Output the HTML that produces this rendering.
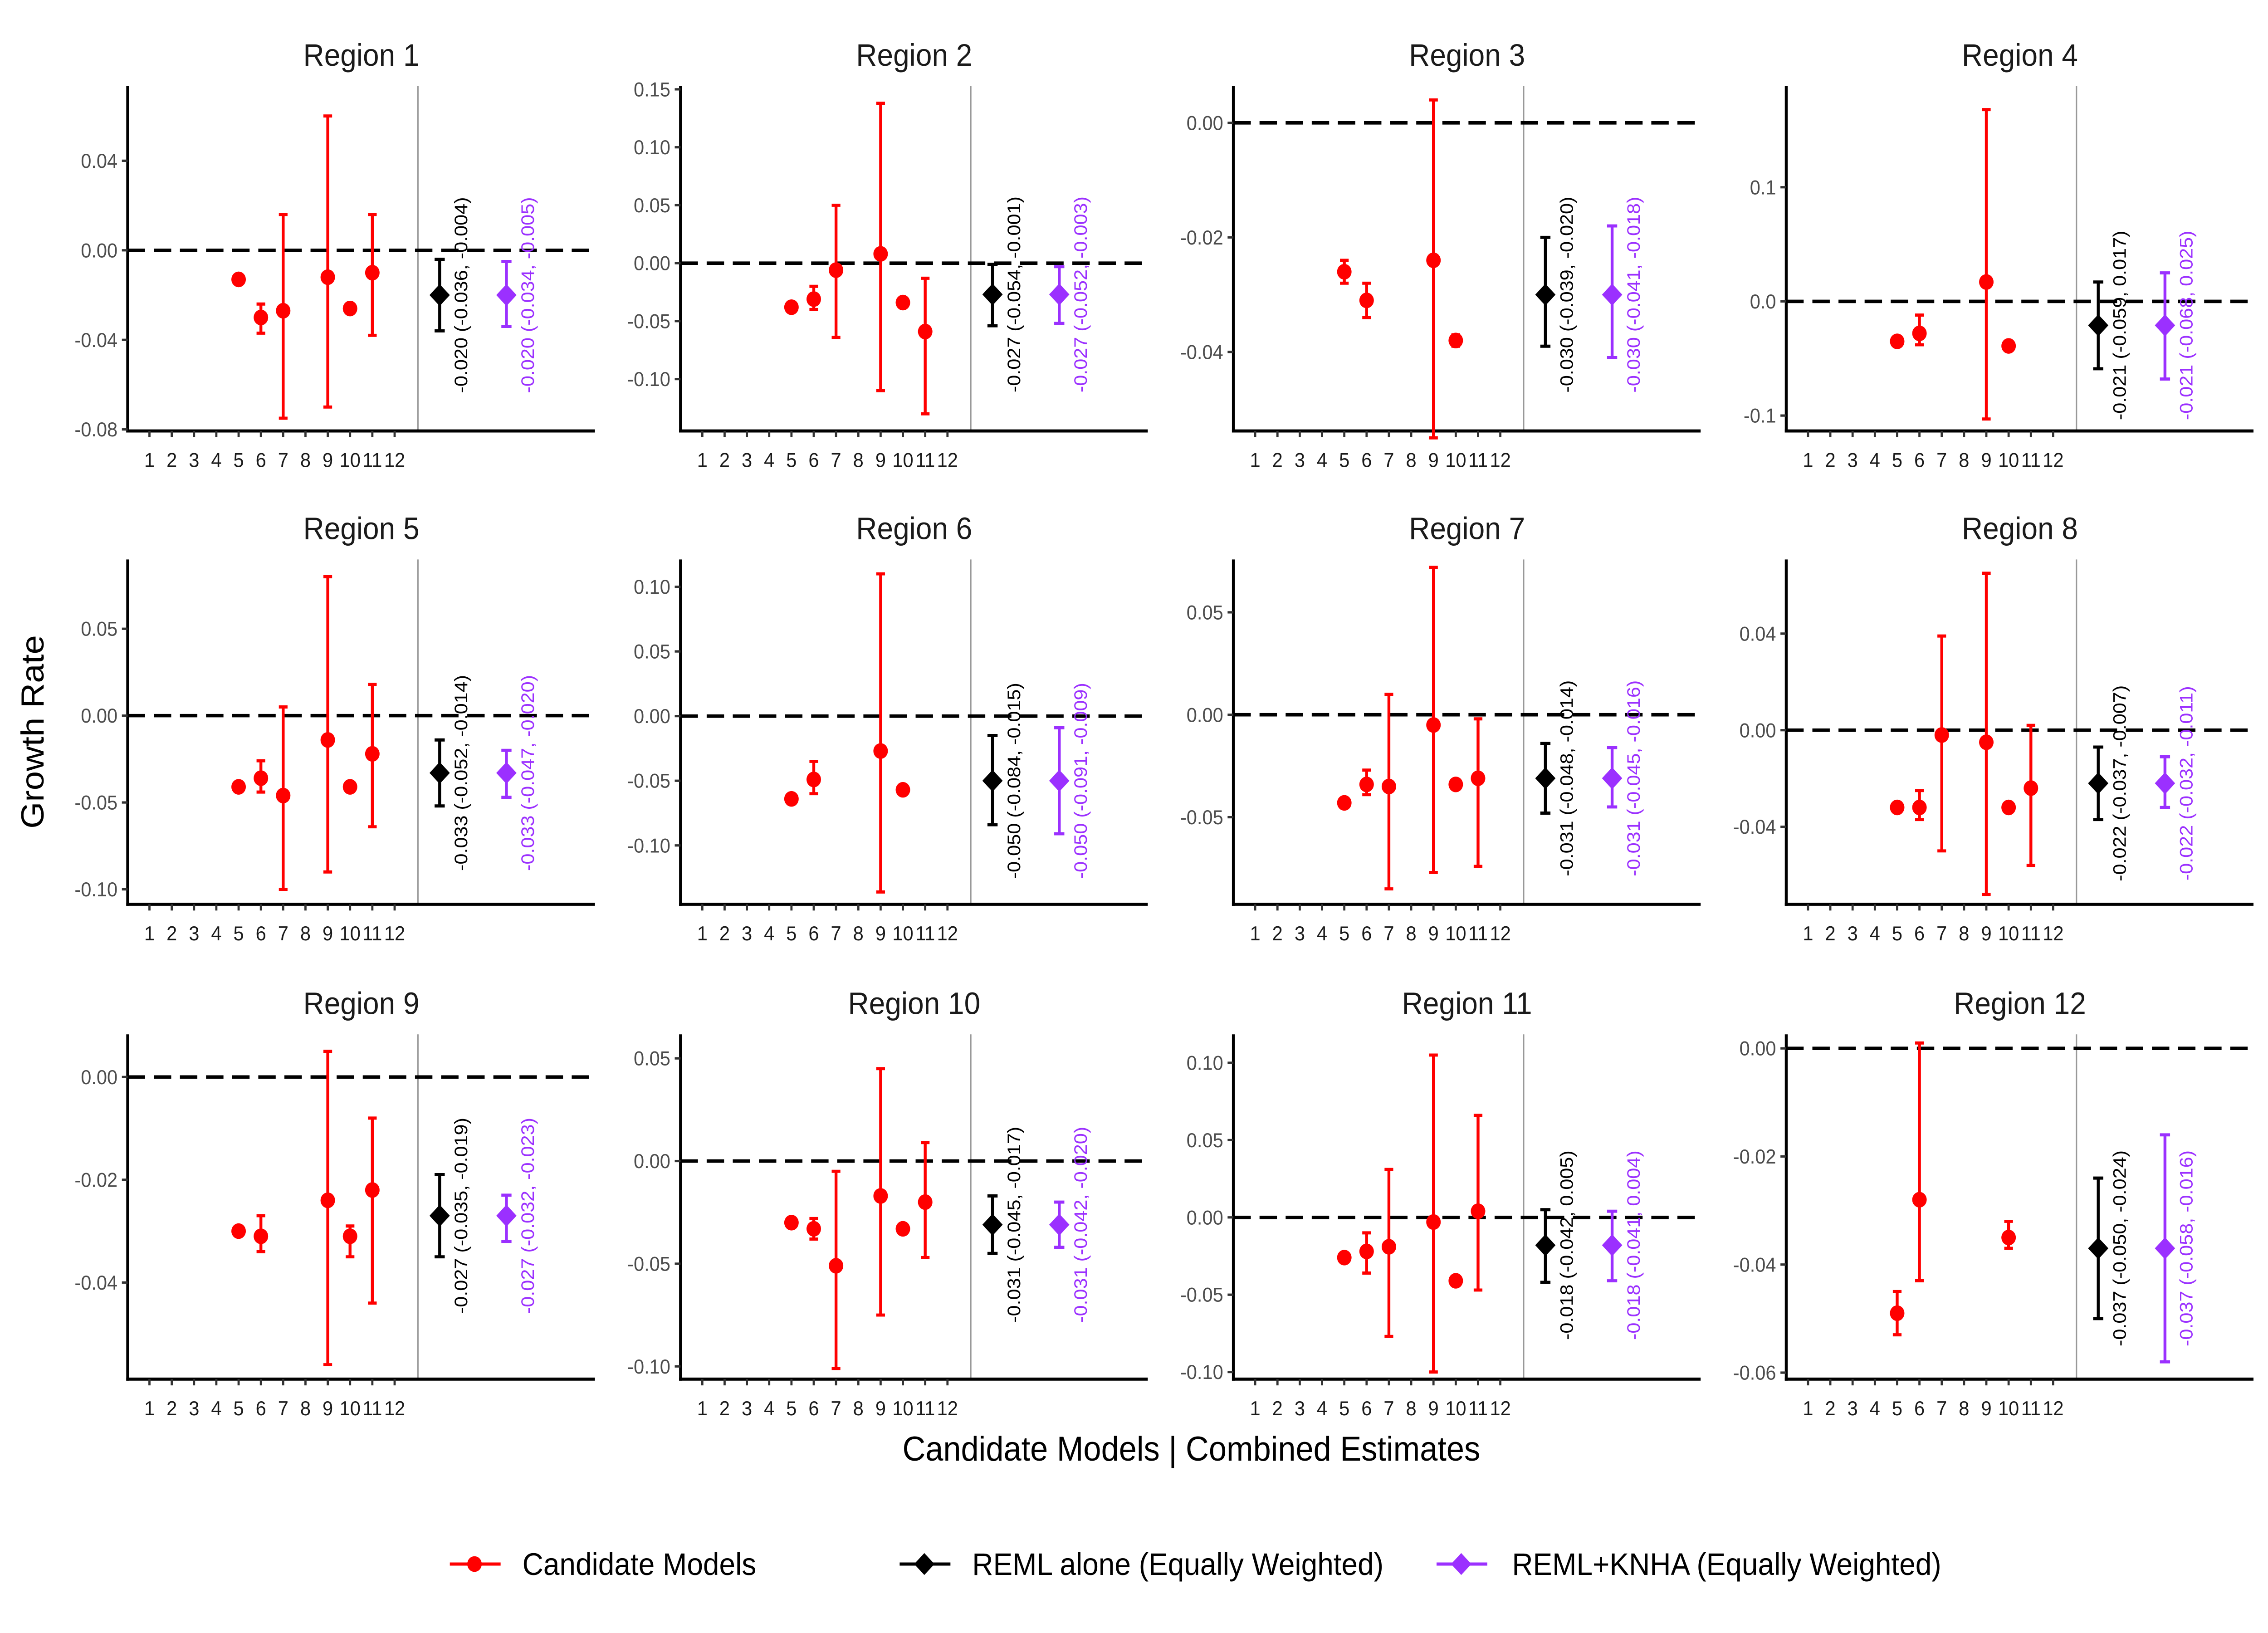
<!DOCTYPE html>
<html><head><meta charset="utf-8"><style>
html,body{margin:0;padding:0;background:#fff;overflow:hidden;width:100%;height:100%}
svg{display:block;position:fixed;left:0;top:0;width:100vw;height:100vh;font-family:"Liberation Sans",Arial,sans-serif}
</style></head><body>
<svg id="chart" viewBox="0 0 1563 1042" preserveAspectRatio="none" xmlns="http://www.w3.org/2000/svg">
<rect width="1563" height="1042" fill="#fff"/>
<text x="0" y="0" transform="translate(30,467) rotate(-90)" text-anchor="middle" font-size="22" fill="#000">Growth Rate</text>
<text x="821" y="932" text-anchor="middle" font-size="22" fill="#000">Candidate Models | Combined Estimates</text>
<g>
<g><line x1="310" y1="998" x2="345" y2="998" stroke="#ff0000" stroke-width="2"/><circle cx="327" cy="998" r="5" fill="#ff0000"/><text x="360" y="1005" font-size="20">Candidate Models</text></g>
<g><line x1="620" y1="998" x2="655" y2="998" stroke="#000" stroke-width="2"/><path d="M637,991 L644,998 L637,1005 L630,998 Z" fill="#000"/><text x="670" y="1005" font-size="20">REML alone (Equally Weighted)</text></g>
<g><line x1="990" y1="998" x2="1025" y2="998" stroke="#9b30ff" stroke-width="2"/><path d="M1007,991 L1014,998 L1007,1005 L1000,998 Z" fill="#9b30ff"/><text x="1042" y="1005" font-size="20">REML+KNHA (Equally Weighted)</text></g>
</g>
<g id="panels"></g>
</svg>
<script>
// Per-region y tick values and labels
const tickVals = [
 [0.04,0,-0.04,-0.08],[0.15,0.10,0.05,0,-0.05,-0.10],[0,-0.02,-0.04],[0.1,0,-0.1],
 [0.05,0,-0.05,-0.10],[0.10,0.05,0,-0.05,-0.10],[0.05,0,-0.05],[0.04,0,-0.04],
 [0,-0.02,-0.04],[0.05,0,-0.05,-0.10],[0.10,0.05,0,-0.05,-0.10],[0,-0.02,-0.04,-0.06]];
const tickLabels = [
 ["0.04","0.00","-0.04","-0.08"],["0.15","0.10","0.05","0.00","-0.05","-0.10"],["0.00","-0.02","-0.04"],["0.1","0.0","-0.1"],
 ["0.05","0.00","-0.05","-0.10"],["0.10","0.05","0.00","-0.05","-0.10"],["0.05","0.00","-0.05"],["0.04","0.00","-0.04"],
 ["0.00","-0.02","-0.04"],["0.05","0.00","-0.05","-0.10"],["0.10","0.05","0.00","-0.05","-0.10"],["0.00","-0.02","-0.04","-0.06"]];
// y-domain: [valueAtTop, valueAtBottom]
const yDomains = [
 [0.0733,-0.0807],[0.1527,-0.1448],[0.0064,-0.0538],[0.1885,-0.1135],
 [0.0899,-0.1086],[0.1211,-0.1455],[0.0758,-0.0925],[0.0707,-0.0721],
 [0.0083,-0.0588],[0.0617,-0.1062],[0.1184,-0.1046],[0.0026,-0.0612]];
// Candidate models: index, estimate, lower, upper (null = no interval)
const candIdx = [
 [5,6,7,9,10,11],[5,6,7,9,10,11],[5,6,9,10],[5,6,9,10],
 [5,6,7,9,10,11],[5,6,9,10],[5,6,7,9,10,11],[5,6,7,9,10,11],
 [5,6,9,10,11],[5,6,7,9,10,11],[5,6,7,9,10,11],[5,6,10]];
const candEst = [
 [-0.013,-0.030,-0.027,-0.012,-0.026,-0.010],[-0.038,-0.031,-0.006,0.008,-0.034,-0.059],[-0.026,-0.031,-0.024,-0.038],[-0.035,-0.028,0.017,-0.039],
 [-0.041,-0.036,-0.046,-0.014,-0.041,-0.022],[-0.064,-0.049,-0.027,-0.057],[-0.043,-0.034,-0.035,-0.005,-0.034,-0.031],[-0.032,-0.032,-0.002,-0.005,-0.032,-0.024],
 [-0.030,-0.031,-0.024,-0.031,-0.022],[-0.030,-0.033,-0.051,-0.017,-0.033,-0.020],[-0.026,-0.022,-0.019,-0.003,-0.041,0.004],[-0.049,-0.028,-0.035]];
const candLo = [
 [null,-0.037,-0.075,-0.070,null,-0.038],[null,-0.040,-0.064,-0.110,null,-0.130],[-0.028,-0.034,-0.055,-0.039],[null,-0.038,-0.103,null],
 [null,-0.044,-0.100,-0.090,null,-0.064],[-0.066,-0.060,-0.136,null],[null,-0.039,-0.085,-0.077,null,-0.074],[null,-0.037,-0.050,-0.068,null,-0.056],
 [null,-0.034,-0.056,-0.035,-0.044],[null,-0.038,-0.101,-0.075,null,-0.047],[null,-0.036,-0.077,-0.100,null,-0.047],[-0.053,-0.043,-0.037]];
const candHi = [
 [null,-0.024,0.016,0.060,null,0.016],[null,-0.020,0.050,0.138,null,-0.013],[-0.024,-0.028,0.004,-0.037],[null,-0.012,0.168,null],
 [null,-0.026,0.005,0.080,null,0.018],[-0.062,-0.035,0.110,null],[null,-0.027,0.010,0.072,null,-0.002],[null,-0.025,0.039,0.065,null,0.002],
 [null,-0.027,0.005,-0.029,-0.008],[null,-0.028,-0.005,0.045,null,0.009],[null,-0.010,0.031,0.105,null,0.066],[-0.045,0.001,-0.032]];
// Combined estimates [est, lo, hi]
const remlVals = [
 [-0.020,-0.036,-0.004],[-0.027,-0.054,-0.001],[-0.030,-0.039,-0.020],[-0.021,-0.059,0.017],
 [-0.033,-0.052,-0.014],[-0.050,-0.084,-0.015],[-0.031,-0.048,-0.014],[-0.022,-0.037,-0.007],
 [-0.027,-0.035,-0.019],[-0.031,-0.045,-0.017],[-0.018,-0.042,0.005],[-0.037,-0.050,-0.024]];
const knhaVals = [
 [-0.020,-0.034,-0.005],[-0.027,-0.052,-0.003],[-0.030,-0.041,-0.018],[-0.021,-0.068,0.025],
 [-0.033,-0.047,-0.020],[-0.050,-0.091,-0.009],[-0.031,-0.045,-0.016],[-0.022,-0.032,-0.011],
 [-0.027,-0.032,-0.023],[-0.031,-0.042,-0.020],[-0.018,-0.041,0.004],[-0.037,-0.058,-0.016]];

const NS="http://www.w3.org/2000/svg";
const root=document.getElementById('panels');
function mk(tag,attrs,parent){const e=document.createElementNS(NS,tag);for(const k in attrs)e.setAttribute(k,attrs[k]);parent.appendChild(e);return e;}
const colX=[88,469,850,1231], rowTop=[55,357,660], H=220, W=322;
const RED="#ff0000", PUR="#9b30ff";
function f3(v){return v.toFixed(3);}
for(let r=0;r<12;r++){
  const ax=colX[r%4], top=rowTop[Math.floor(r/4)], bot=top+H;
  const [d0,d1]=yDomains[r];
  const y=v=>top+(d0-v)/(d0-d1)*H;
  const x=i=>ax+15+(i-1)*15.36;
  const g=mk('g',{},root);
  
  
  const t=mk('text',{x:ax+161,y:top-13,'text-anchor':'middle','font-size':20,fill:'#1a1a1a'},g);
  t.textContent='Region '+(r+1);
  
  
  const sep=mk('line',{x1:ax+200,y1:top,x2:ax+200,y2:bot,stroke:'#999','stroke-width':1},g);
  
  
  const z=mk('line',{x1:ax,y1:y(0),x2:ax+W,y2:y(0),stroke:'#000','stroke-width':2.2,'stroke-dasharray':'12,6'},g);
  
  
  const ya=mk('line',{x1:ax,y1:top,x2:ax,y2:bot+1,stroke:'#000','stroke-width':2},g);
  
  
  const xa=mk('line',{x1:ax-1,y1:bot,x2:ax+W,y2:bot,stroke:'#000','stroke-width':2},g);
  
  
  tickVals[r].forEach((v,k)=>{
    const yy=y(v);
    mk('line',{x1:ax-4,y1:yy,x2:ax,y2:yy,stroke:'#333','stroke-width':1.5},g);
    const tl=mk('text',{x:ax-7,y:yy+4.5,'text-anchor':'end','font-size':13,fill:'#4d4d4d'},g);
    tl.textContent=tickLabels[r][k];
    
    
  });
  for(let i=1;i<=12;i++){
    mk('line',{x1:x(i),y1:bot,x2:x(i),y2:bot+4,stroke:'#333','stroke-width':1.5},g);
    const xl=mk('text',{x:x(i),y:bot+23,'text-anchor':'middle','font-size':13,fill:'#1a1a1a'},g);
    xl.textContent=String(i);
    
    
  }
  candIdx[r].forEach((m,k)=>{
    const cx=x(m);
    const lo=candLo[r][k], hi=candHi[r][k];
    const cg=mk('g',{},g);
    
    
    if(lo!==null&&hi!==null){
      mk('line',{x1:cx,y1:y(lo),x2:cx,y2:y(hi),stroke:RED,'stroke-width':2},cg);
      mk('line',{x1:cx-3,y1:y(lo),x2:cx+3,y2:y(lo),stroke:RED,'stroke-width':2},cg);
      mk('line',{x1:cx-3,y1:y(hi),x2:cx+3,y2:y(hi),stroke:RED,'stroke-width':2},cg);
    }
    mk('circle',{cx:cx,cy:y(candEst[r][k]),r:5,fill:RED},cg);
  });
  [[remlVals[r],'#000',ax+215,'reml-estimate'],[knhaVals[r],PUR,ax+261,'knha-estimate']].forEach(([v,c,cx,nm])=>{
    const cg=mk('g',{},g);
    
    
    mk('line',{x1:cx,y1:y(v[1]),x2:cx,y2:y(v[2]),stroke:c,'stroke-width':2},cg);
    mk('line',{x1:cx-3.5,y1:y(v[1]),x2:cx+3.5,y2:y(v[1]),stroke:c,'stroke-width':2},cg);
    mk('line',{x1:cx-3.5,y1:y(v[2]),x2:cx+3.5,y2:y(v[2]),stroke:c,'stroke-width':2},cg);
    const cy=y(v[0]);
    mk('path',{d:`M${cx},${cy-7} L${cx+7},${cy} L${cx},${cy+7} L${cx-7},${cy} Z`,fill:c},cg);
    const lt=mk('text',{x:0,y:0,transform:`translate(${cx+19},${cy}) rotate(-90)`,'text-anchor':'middle','font-size':12.5,fill:c},cg);
    lt.textContent=`${f3(v[0])} (${f3(v[1])}, ${f3(v[2])})`;
    
    
  });
}
</script>
</body></html>
